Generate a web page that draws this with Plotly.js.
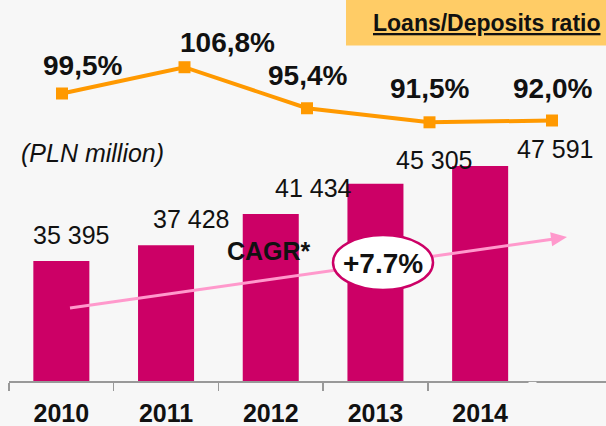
<!DOCTYPE html>
<html>
<head>
<meta charset="utf-8">
<script src="https://cdn.plot.ly/plotly-3.0.1.min.js"></script>
<style>
html,body{margin:0;padding:0;background:#F7F7F7;}
#chart{width:606px;height:426px;}
</style>
</head>
<body>
<div id="chart"></div>
<script>
// ---- data ----
const years = ['2010', '2011', '2012', '2013', '2014'];
const loans = [35395, 37428, 41434, 45305, 47591];
const ratio = [99.5, 106.8, 95.4, 91.5, 92.0];
const unitLabel = '(PLN million)';
const boxTitle = 'Loans/Deposits ratio';
const cagrLabel = 'CAGR*';
const cagrValue = '+7.7%';

// ---- label offsets (style) ----
const barLabelDx = [10, 25, 43, 59, 75];
const barLabelDy = [26, 26, 26, 24, 17];
const lineLabelDx = [20, 43, 0, 0, 0];
const lineLabelDy = [28, 25, 33, 34, 32];

const FONT = 'Liberation Sans, Arial, sans-serif';
const ML = 9, MB = 45, W = 606, H = 426;
const PW = W - ML, PH = H - MB;
const CAT_PX = 104.7;
const px = v => (v - ML) / PW;
const py = v => 1 - v / PH;
const xIdx = years.map((_, i) => i);

function fmtSpace(n) {
  return String(n).replace(/\B(?=(\d{3})+(?!\d))/g, ' ');
}
function fmtPct(v) {
  return v.toFixed(1).replace('.', ',') + '%';
}

const bars = {
  type: 'bar', x: years, y: loans,
  marker: {color: '#CC0066'}, width: 0.535,
  hoverinfo: 'skip', xaxis: 'x', yaxis: 'y'
};
const line = {
  type: 'scatter', mode: 'lines+markers',
  x: xIdx, y: ratio,
  line: {color: '#FF9900', width: 4},
  marker: {symbol: 'square', size: 12, color: '#FF9900'},
  xaxis: 'x2', yaxis: 'y2', hoverinfo: 'skip'
};

const annotations = [];
years.forEach((yr, i) => {
  annotations.push({
    xref: 'x', yref: 'y', x: i, y: loans[i], text: fmtSpace(loans[i]),
    showarrow: false, xanchor: 'center', yanchor: 'middle',
    xshift: barLabelDx[i], yshift: barLabelDy[i],
    font: {family: FONT, size: 25, color: '#111'}
  });
  annotations.push({
    xref: 'x2', yref: 'y2', x: i, y: ratio[i], text: '<b>' + fmtPct(ratio[i]) + '</b>',
    showarrow: false, xanchor: 'center', yanchor: 'middle',
    xshift: lineLabelDx[i], yshift: lineLabelDy[i],
    font: {family: FONT, size: 28, color: '#111'}
  });
});
annotations.push({
  xref: 'paper', yref: 'paper', x: px(92), y: py(153), text: '<i>' + unitLabel + '</i>',
  showarrow: false, xanchor: 'center', yanchor: 'middle',
  font: {family: FONT, size: 25, color: '#111'}
});
annotations.push({
  xref: 'paper', yref: 'paper', x: px(487), y: py(23), text: '<b><u>' + boxTitle + '</u></b>',
  showarrow: false, xanchor: 'center', yanchor: 'middle',
  font: {family: FONT, size: 23, color: '#111'}
});
annotations.push({
  xref: 'paper', yref: 'paper', x: px(269), y: py(251), text: '<b>' + cagrLabel + '</b>',
  showarrow: false, xanchor: 'center', yanchor: 'middle',
  font: {family: FONT, size: 25, color: '#111'}
});
annotations.push({
  xref: 'paper', yref: 'paper', x: px(383), y: py(263), text: '<b>' + cagrValue + '</b>',
  showarrow: false, xanchor: 'center', yanchor: 'middle',
  font: {family: FONT, size: 28, color: '#111'}
});

// arrow geometry
const tail = [70, 308], tip = [567, 237];
const dx = tip[0] - tail[0], dy = tip[1] - tail[1];
const len = Math.hypot(dx, dy);
const ux = dx / len, uy = dy / len;
const hl = 16, hw = 7;
const bx = tip[0] - hl * ux, by = tip[1] - hl * uy;
const nx = -uy, ny = ux;
const c1 = [bx + hw * nx, by + hw * ny], c2 = [bx - hw * nx, by - hw * ny];

// the boundary tick after the last category is not in the reference: mask it
const lastTickX = ML + years.length * CAT_PX;

const shapes = [
  {type: 'rect', xref: 'paper', yref: 'paper', x0: px(346), x1: 1, y0: py(45.5), y1: 1,
   fillcolor: '#FFCC66', line: {width: 0}, layer: 'below'},
  {type: 'rect', xref: 'paper', yref: 'paper', x0: px(lastTickX - 4), x1: px(lastTickX + 4),
   y0: py(PH + 11), y1: py(PH + 0.9), fillcolor: '#F7F7F7', line: {width: 0}, layer: 'above'},
  {type: 'line', xref: 'paper', yref: 'paper', x0: px(tail[0]), y0: py(tail[1]),
   x1: px(bx + 1), y1: py(by), line: {color: '#FF99CC', width: 3}, layer: 'above'},
  {type: 'path', xref: 'paper', yref: 'paper',
   path: `M ${px(tip[0])} ${py(tip[1])} L ${px(c1[0])} ${py(c1[1])} L ${px(c2[0])} ${py(c2[1])} Z`,
   fillcolor: '#FF99CC', line: {width: 0}, layer: 'above'},
  {type: 'circle', xref: 'paper', yref: 'paper', x0: px(333), x1: px(433), y0: py(290), y1: py(235),
   fillcolor: '#FFFFFF', line: {color: '#CC0066', width: 2.5}, layer: 'above'}
];

const layout = {
  width: W, height: H,
  margin: {l: ML, r: 0, t: 0, b: MB, pad: 0},
  paper_bgcolor: '#F7F7F7', plot_bgcolor: '#F7F7F7',
  showlegend: false,
  xaxis: {
    type: 'category', range: [-0.5, -0.5 + PW / CAT_PX],
    showline: true, linecolor: '#999999', linewidth: 1.5,
    ticks: 'outside', tickson: 'boundaries', ticklen: 8, tickwidth: 1.5, tickcolor: '#999999',
    showgrid: false, zeroline: false,
    tickfont: {family: FONT, size: 25, color: '#111', weight: 'bold'},
    ticklabelstandoff: 9
  },
  yaxis: {range: [20000, 20000 + PH / 0.00779], visible: false, showgrid: false, zeroline: false},
  xaxis2: {overlaying: 'x', range: [-(62 - ML) / 122.5, 4 + 54 / 122.5], visible: false},
  yaxis2: {overlaying: 'y', range: [99.5 - (PH - 93.5) / 3.6, 99.5 + 93.5 / 3.6], visible: false},
  annotations: annotations,
  shapes: shapes
};

Plotly.newPlot('chart', [bars, line], layout, {displayModeBar: false, staticPlot: true});
</script>
</body>
</html>
